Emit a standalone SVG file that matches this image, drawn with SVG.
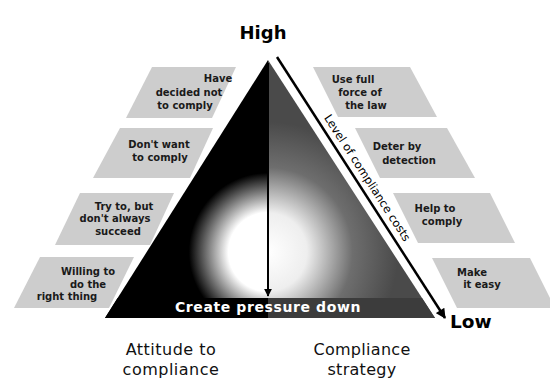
<svg xmlns="http://www.w3.org/2000/svg" width="550" height="385" viewBox="0 0 550 385">
<style>
.slab{fill:#cdcdcd;}
.lbl{font-family:"DejaVu Sans",sans-serif;font-weight:bold;font-size:10px;fill:#1a1a1a;text-anchor:middle;}
.big{font-family:"DejaVu Sans",sans-serif;font-size:16px;fill:#111;text-anchor:middle;}
.head{font-family:"DejaVu Sans",sans-serif;font-weight:bold;fill:#000;}
</style>
<defs>
<radialGradient id="gl" cx="268" cy="252" r="110" gradientUnits="userSpaceOnUse">
<stop offset="0" stop-color="#fff"/>
<stop offset="0.36" stop-color="#fff"/>
<stop offset="0.72" stop-color="#000"/>
<stop offset="1" stop-color="#000"/>
</radialGradient>
<radialGradient id="gr" cx="268" cy="252" r="130" gradientUnits="userSpaceOnUse">
<stop offset="0" stop-color="#fff"/>
<stop offset="0.3" stop-color="#eee"/>
<stop offset="0.65" stop-color="#6e6e6e"/>
<stop offset="1" stop-color="#4a4a4a"/>
</radialGradient>
<marker id="ah" viewBox="0 0 10 10" refX="9" refY="5" markerWidth="4" markerHeight="4" orient="auto" markerUnits="strokeWidth">
<path d="M0,0 L10,5 L0,10 z" fill="#000"/>
</marker>
<marker id="ah2" viewBox="0 0 10 10" refX="9" refY="5" markerWidth="5" markerHeight="4" orient="auto" markerUnits="strokeWidth">
<path d="M0,0 L10,5 L0,10 z" fill="#000"/>
</marker>
</defs>
<rect width="550" height="385" fill="#fff"/>

<g id="triangle">
<polygon points="268,60 105,318 268,318" fill="url(#gl)"/>
<polygon points="268,60 435,318 268,318" fill="url(#gr)"/>
<polygon points="117.6,298 268,298 268,318 105,318" fill="#000"/>
<polygon points="268,298 422,298 435,318 268,318" fill="#3c3c3c"/>
<text x="268" y="312" class="head" font-size="14" letter-spacing="0.6" text-anchor="middle" style="fill:#fff">Create pressure down</text>
</g>

<g id="l1"><polygon class="slab" points="152,67 236,67 212,118 126,118"/>
<text class="lbl" x="218" y="82">Have</text><text class="lbl" x="189" y="96">decided not</text><text class="lbl" x="185" y="109">to comply</text></g>
<g id="l2"><polygon class="slab" points="120,128 213,128 190,178 93,178"/>
<text class="lbl" x="159" y="148">Don't want</text><text class="lbl" x="160" y="161">to comply</text></g>
<g id="l3"><polygon class="slab" points="80,193 174,193 150,245 55,245"/>
<text class="lbl" x="124" y="210">Try to, but</text><text class="lbl" x="115" y="222">don't always</text><text class="lbl" x="118" y="235">succeed</text></g>
<g id="l4"><polygon class="slab" points="40,257 134,257 109,308 14,308"/>
<text class="lbl" x="88" y="275">Willing to</text><text class="lbl" x="88" y="288">do the</text><text class="lbl" x="67" y="300">right thing</text></g>

<g id="r1"><polygon class="slab" points="313,67 410,67 437,117 338,117"/>
<text class="lbl" x="353" y="83">Use full</text><text class="lbl" x="360" y="96">force of</text><text class="lbl" x="366" y="109">the law</text></g>
<g id="r2"><polygon class="slab" points="355,128 447,128 475,178 380,178"/>
<text class="lbl" x="397" y="150">Deter by</text><text class="lbl" x="409" y="164">detection</text></g>
<g id="r3"><polygon class="slab" points="393,193 490,193 515,243 418,243"/>
<text class="lbl" x="435" y="212">Help to</text><text class="lbl" x="442" y="225">comply</text></g>
<g id="r4"><polygon class="slab" points="432,258 530,258 550,298 550,308 457,308"/>
<text class="lbl" x="472" y="276">Make</text><text class="lbl" x="482" y="288">it easy</text></g>

<g id="connectors">
<line x1="268" y1="63" x2="268" y2="296" stroke="#000" stroke-width="2" marker-end="url(#ah)"/>
<line x1="277" y1="57" x2="445" y2="318" stroke="#000" stroke-width="2.5" marker-end="url(#ah2)"/>
</g>
<text transform="translate(364,180) rotate(57)" font-family="DejaVu Sans, sans-serif" font-size="11.5" text-anchor="middle" fill="#000">Level of compliance costs</text>

<text class="head" x="263" y="39" font-size="18" text-anchor="middle">High</text>
<text class="head" x="450" y="328" font-size="18.5">Low</text>

<g id="axis-labels">
<text class="big" x="171" y="355" letter-spacing="0.5">Attitude to</text>
<text class="big" x="171" y="375" letter-spacing="0.5">compliance</text>
<text class="big" x="362" y="355" letter-spacing="0.3">Compliance</text>
<text class="big" x="362" y="375" letter-spacing="0.3">strategy</text>
</g>
</svg>
